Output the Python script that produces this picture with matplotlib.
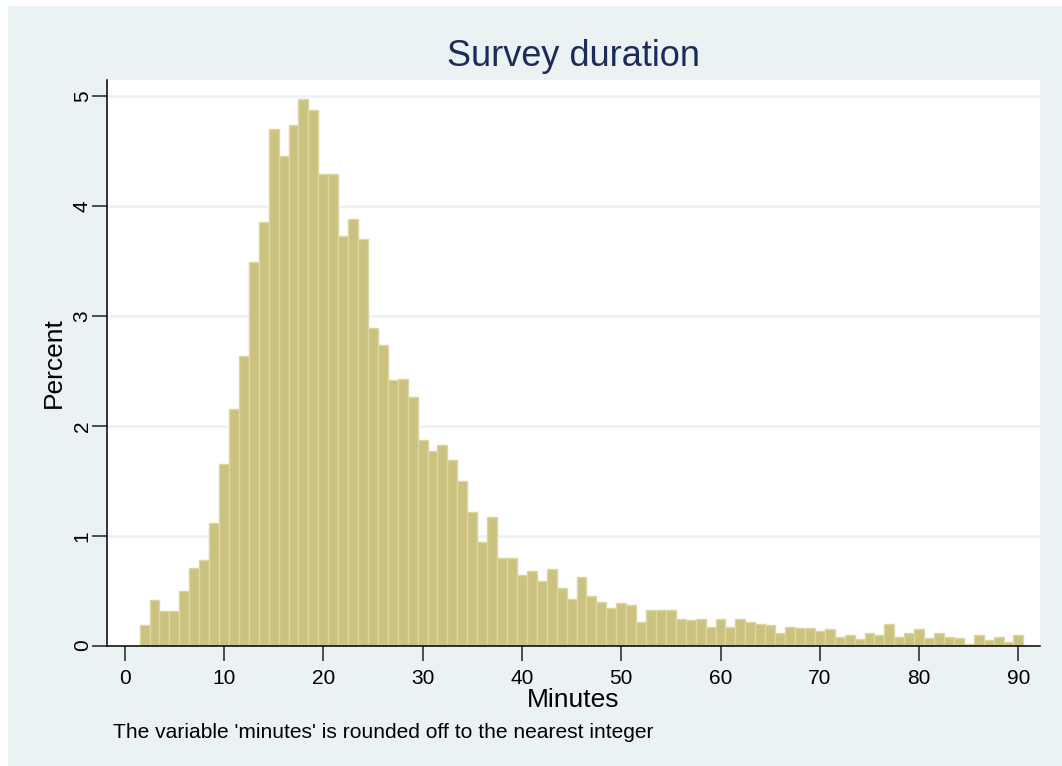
import matplotlib.pyplot as plt
from matplotlib.patches import Rectangle

plt.rcParams["font.family"] = ["Liberation Sans", "DejaVu Sans"]

# minutes (rounded) and share of surveys in percent
minutes = list(range(2, 91))
percent = [
    0.19, 0.415, 0.31, 0.31, 0.50, 0.705, 0.78, 1.12, 1.65,          # 2-10
    2.155, 2.635, 3.495, 3.855, 4.70, 4.46, 4.74, 4.98, 4.88, 4.29,  # 11-20
    4.29, 3.73, 3.88, 3.70, 2.89, 2.74, 2.415, 2.43, 2.26, 1.87,     # 21-30
    1.77, 1.83, 1.69, 1.50, 1.22, 0.94, 1.17, 0.80, 0.80, 0.645,     # 31-40
    0.68, 0.585, 0.70, 0.52, 0.42, 0.62, 0.455, 0.40, 0.34, 0.385,   # 41-50
    0.37, 0.21, 0.327, 0.327, 0.327, 0.245, 0.233, 0.245, 0.17, 0.245,  # 51-60
    0.17, 0.245, 0.215, 0.20, 0.185, 0.11, 0.17, 0.155, 0.155, 0.13,    # 61-70
    0.148, 0.076, 0.097, 0.058, 0.11, 0.094, 0.197, 0.073, 0.11, 0.148,  # 71-80
    0.064, 0.11, 0.08, 0.067, 0.012, 0.097, 0.048, 0.08, 0.036, 0.097,   # 81-90
]
x_ticks = [0, 10, 20, 30, 40, 50, 60, 70, 80, 90]
y_ticks = [0, 1, 2, 3, 4, 5]

bg = "#eaf2f3"
fig = plt.figure(figsize=(10.62, 7.66), dpi=100, facecolor="white")
# stata graph region
fig.patches.append(Rectangle((8 / 1062, 0), 1, 1 - 6 / 766, transform=fig.transFigure,
                             facecolor=bg, edgecolor="none", zorder=-10))

ax = fig.add_axes([107 / 1062, 1 - 645.5 / 766, (1040 - 107) / 1062, (645.5 - 80) / 766])
ax.set_zorder(5)
ax.set_facecolor("white")

ax.bar(minutes, percent, width=1.0, color="#cbc27f", edgecolor="#dcd6a3",
       linewidth=1.0, zorder=3)

ax.set_xlim(-1.78, 92.17)
ax.set_ylim(0, 5.15)
ax.set_xticks(x_ticks)
ax.set_yticks(y_ticks)
for y in y_ticks[1:]:
    ax.axhline(y, color=bg, linewidth=1.8, zorder=1)

for s in ["top", "right"]:
    ax.spines[s].set_visible(False)
for s in ["left", "bottom"]:
    ax.spines[s].set_linewidth(1.1)
    ax.spines[s].set_color("black")
    ax.spines[s].set_zorder(4)

ax.tick_params(axis="both", length=11, width=1.1, labelsize=15, color="#222222")
ax.tick_params(axis="x", pad=6)
ax.tick_params(axis="y", pad=0)
plt.setp(ax.get_yticklabels(), rotation=90, va="center")

ax.set_xlabel("Minutes", fontsize=19, labelpad=0)
ax.set_ylabel("Percent", fontsize=19, labelpad=5)
ax.set_title("Survey duration", fontsize=26, color="#1c2b5a", pad=10)

fig.text(113 / 1062, 1 - 732 / 766, "The variable 'minutes' is rounded off to the nearest integer",
         fontsize=15.1, va="center", ha="left")

fig.savefig("out.png", dpi=100)
